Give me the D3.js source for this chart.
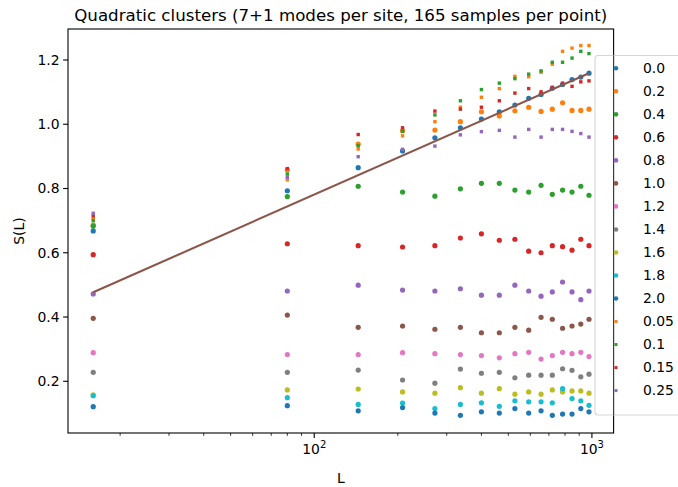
<!DOCTYPE html>
<html>
<head>
<meta charset="utf-8">
<script src="https://cdn.jsdelivr.net/npm/d3@7"></script>
<style>
  html, body { margin: 0; padding: 0; background: #fff; }
  svg { display: block; font-family: "DejaVu Sans", sans-serif; }
</style>
</head>
<body>
<svg id="chart" width="678" height="487"></svg>
<script>
// ---------- data ----------
const Ls = [16, 80, 144, 208, 272, 336, 400, 464, 528, 592, 656, 720, 784, 848, 912, 976];

const seriesNames = ["0.0", "0.2", "0.4", "0.6", "0.8", "1.0", "1.2", "1.4", "1.6", "1.8", "2.0", "0.05", "0.1", "0.15", "0.25"];
const seriesShapes = ["circle", "circle", "circle", "circle", "circle", "circle", "circle", "circle", "circle", "circle", "circle", "square", "square", "square", "square"];

const s00  = [0.668, 0.793, 0.865, 0.917, 0.958, 0.989, 1.016, 1.039, 1.060, 1.081, 1.093, 1.112, 1.124, 1.139, 1.147, 1.159];
const s02  = [0.686, 0.858, 0.938, 0.980, 0.982, 1.008, 1.039, 1.026, 1.042, 1.053, 1.040, 1.047, 1.067, 1.043, 1.043, 1.047];
const s04  = [0.683, 0.775, 0.807, 0.789, 0.776, 0.799, 0.816, 0.816, 0.795, 0.789, 0.810, 0.782, 0.795, 0.789, 0.807, 0.779];
const s06  = [0.594, 0.628, 0.622, 0.618, 0.622, 0.646, 0.659, 0.639, 0.642, 0.605, 0.600, 0.622, 0.619, 0.608, 0.642, 0.622];
const s08  = [0.472, 0.481, 0.499, 0.484, 0.481, 0.488, 0.468, 0.468, 0.499, 0.481, 0.465, 0.478, 0.509, 0.478, 0.454, 0.481];
const s10  = [0.396, 0.406, 0.368, 0.372, 0.362, 0.368, 0.351, 0.351, 0.368, 0.359, 0.399, 0.393, 0.365, 0.372, 0.378, 0.393];
const s12  = [0.289, 0.283, 0.283, 0.289, 0.286, 0.283, 0.280, 0.273, 0.286, 0.290, 0.269, 0.280, 0.290, 0.286, 0.290, 0.277];
const s14  = [0.228, 0.228, 0.235, 0.204, 0.194, 0.238, 0.225, 0.228, 0.211, 0.219, 0.219, 0.219, 0.239, 0.234, 0.214, 0.222];
const s16  = [0.158, 0.173, 0.176, 0.167, 0.163, 0.180, 0.163, 0.177, 0.160, 0.167, 0.160, 0.173, 0.167, 0.170, 0.170, 0.163];
const s18  = [0.155, 0.149, 0.128, 0.132, 0.115, 0.128, 0.133, 0.122, 0.139, 0.136, 0.136, 0.133, 0.177, 0.146, 0.139, 0.125];
const s20  = [0.121, 0.124, 0.108, 0.118, 0.101, 0.094, 0.105, 0.101, 0.115, 0.101, 0.108, 0.094, 0.098, 0.098, 0.115, 0.105];
const s005 = [0.706, 0.827, 0.923, 0.964, 1.008, 1.053, 1.084, 1.111, 1.149, 1.148, 1.162, 1.187, 1.227, 1.237, 1.245, 1.245];
const s01  = [0.700, 0.845, 0.933, 0.978, 1.029, 1.073, 1.108, 1.128, 1.142, 1.156, 1.166, 1.193, 1.193, 1.206, 1.227, 1.220];
const s015 = [0.715, 0.862, 0.968, 0.989, 1.041, 1.047, 1.053, 1.073, 1.097, 1.111, 1.101, 1.115, 1.128, 1.118, 1.132, 1.135];
const s025 = [0.723, 0.835, 0.899, 0.922, 0.932, 0.967, 0.977, 0.981, 0.960, 0.984, 0.960, 0.984, 0.984, 0.978, 0.971, 0.960];

const seriesValues = [s00, s02, s04, s06, s08, s10, s12, s14, s16, s18, s20, s005, s01, s015, s025];

// fit line (straight in log L)
const fitL = [16, 976];
const fitS = [0.477, 1.159];

const yTicks = [0.2, 0.4, 0.6, 0.8, 1.0, 1.2];
const xMajorTicks = [100, 1000];
const xMinorTicks = [20, 30, 40, 50, 60, 70, 80, 90, 200, 300, 400, 500, 600, 700, 800, 900];

// ---------- layout ----------
const tab10 = ["#1f77b4", "#ff7f0e", "#2ca02c", "#d62728", "#9467bd", "#8c564b", "#e377c2", "#7f7f7f", "#bcbd22", "#17becf"];
const svg = d3.select("#chart");
const pLeft = 68, pRight = 613.6, pTop = 29, pBottom = 433;

const x = d3.scaleLog().domain([12.98, 1197]).range([pLeft, pRight]);
const y = d3.scaleLinear().domain([0.039, 1.2965]).range([pBottom, pTop]);

// ---------- scatter points ----------
const g = svg.append("g");
seriesValues.forEach((vals, i) => {
  const color = tab10[i % 10];
  const pts = Ls.map((L, j) => ({ L, v: vals[j] }));
  if (seriesShapes[i] === "circle") {
    g.selectAll(null).data(pts).enter().append("circle")
      .attr("cx", d => x(d.L)).attr("cy", d => y(d.v))
      .attr("r", 2.6).attr("fill", color);
  } else {
    const sz = 3.4;
    g.selectAll(null).data(pts).enter().append("rect")
      .attr("x", d => x(d.L) - sz / 2).attr("y", d => y(d.v) - sz / 2)
      .attr("width", sz).attr("height", sz).attr("fill", color);
  }
});

// ---------- fit line ----------
const lineData = fitL.map((L, i) => ({ L, v: fitS[i] }));
svg.append("path")
  .datum(lineData)
  .attr("d", d3.line().x(d => x(d.L)).y(d => y(d.v)))
  .attr("fill", "none").attr("stroke", tab10[5]).attr("stroke-width", 2.1);

// ---------- axes ----------
const fontSize = 13.9;
svg.append("rect").attr("x", pLeft).attr("y", pTop)
  .attr("width", pRight - pLeft).attr("height", pBottom - pTop)
  .attr("fill", "none").attr("stroke", "#000").attr("stroke-width", 1.1);

const yAxis = svg.append("g");
yTicks.forEach(t => {
  yAxis.append("line").attr("x1", pLeft - 4.9).attr("x2", pLeft)
    .attr("y1", y(t)).attr("y2", y(t)).attr("stroke", "#000").attr("stroke-width", 1.1);
  yAxis.append("text").attr("x", pLeft - 8.5).attr("y", y(t))
    .attr("dy", "0.35em").attr("text-anchor", "end")
    .attr("font-size", fontSize).attr("fill", "#000").text(t.toFixed(1));
});

const xAxis = svg.append("g");
xMinorTicks.forEach(t => {
  xAxis.append("line").attr("x1", x(t)).attr("x2", x(t))
    .attr("y1", pBottom).attr("y2", pBottom + 2.8).attr("stroke", "#000").attr("stroke-width", 0.8);
});
xMajorTicks.forEach(t => {
  xAxis.append("line").attr("x1", x(t)).attr("x2", x(t))
    .attr("y1", pBottom).attr("y2", pBottom + 4.9).attr("stroke", "#000").attr("stroke-width", 1.1);
  const txt = xAxis.append("text").attr("x", x(t)).attr("y", pBottom + 21)
    .attr("text-anchor", "middle").attr("font-size", fontSize).attr("fill", "#000");
  txt.append("tspan").text("10");
  txt.append("tspan").attr("dy", -6).attr("font-size", 10).text(String(Math.round(Math.log10(t))));
});

svg.append("text").attr("x", (pLeft + pRight) / 2).attr("y", 483)
  .attr("text-anchor", "middle").attr("font-size", fontSize).attr("fill", "#000").text("L");
svg.append("text")
  .attr("transform", `translate(${24},${(pTop + pBottom) / 2}) rotate(-90)`)
  .attr("text-anchor", "middle").attr("font-size", fontSize).attr("fill", "#000").text("S(L)");

svg.append("text").attr("x", (pLeft + pRight) / 2).attr("y", 20.5)
  .attr("text-anchor", "middle").attr("font-size", 16.67).attr("fill", "#000")
  .text("Quadratic clusters (7+1 modes per site, 165 samples per point)");

// ---------- legend ----------
const lg = svg.append("g");
const lgX = 595, lgY = 55.5, lgH = 359.5;
lg.append("rect").attr("x", lgX).attr("y", lgY).attr("width", 110).attr("height", lgH)
  .attr("rx", 3).attr("fill", "#fff").attr("fill-opacity", 0.8)
  .attr("stroke", "#cccccc").attr("stroke-opacity", 0.8).attr("stroke-width", 1.1);
// right spine visible through the legend
lg.append("line").attr("x1", pRight).attr("x2", pRight)
  .attr("y1", lgY).attr("y2", lgY + lgH)
  .attr("stroke", "#333").attr("stroke-width", 1.1);
const rowStart = 68.3, rowStep = 23.02;
seriesNames.forEach((name, i) => {
  const cy = rowStart + i * rowStep;
  const color = tab10[i % 10];
  if (seriesShapes[i] === "circle") {
    lg.append("circle").attr("cx", 616).attr("cy", cy).attr("r", 2.3).attr("fill", color);
  } else {
    lg.append("rect").attr("x", 616 - 1.5).attr("y", cy - 1.5).attr("width", 3).attr("height", 3).attr("fill", color);
  }
  lg.append("text").attr("x", 643).attr("y", cy).attr("dy", "0.35em")
    .attr("font-size", fontSize).attr("fill", "#000").text(name);
});
</script>
</body>
</html>
